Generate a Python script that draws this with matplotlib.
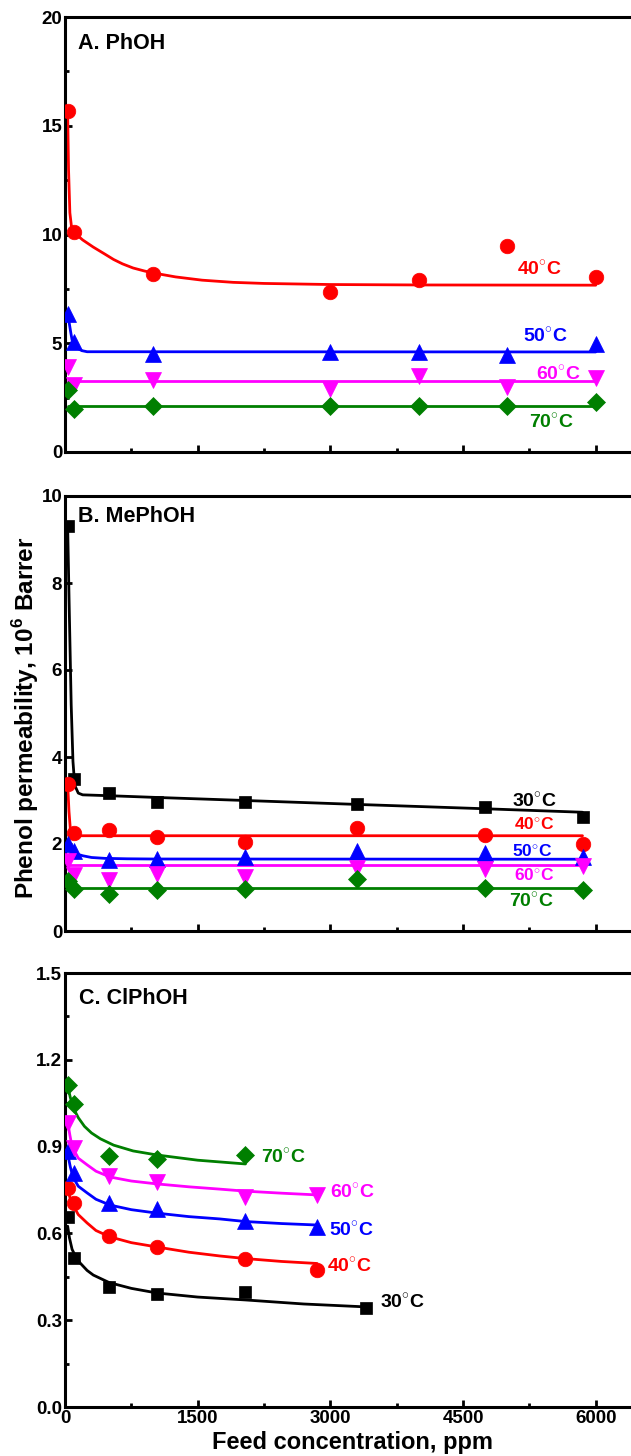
import matplotlib
matplotlib.use("Agg")
import matplotlib.pyplot as plt
from matplotlib.ticker import MultipleLocator, FormatStrFormatter

plt.rcParams['font.family'] = ['Liberation Sans', 'DejaVu Sans']
plt.rcParams['font.weight'] = 'bold'
plt.rcParams['mathtext.fontset'] = 'custom'
plt.rcParams['mathtext.rm'] = 'Liberation Sans:bold'
plt.rcParams['mathtext.bf'] = 'Liberation Sans:bold'

# colours / markers per temperature
temps = ['30°C', '40°C', '50°C', '60°C', '70°C']
colors = {'30°C': 'black', '40°C': '#ff0000', '50°C': '#0000ff',
          '60°C': '#ff00ff', '70°C': '#007f00'}
markers = {'30°C': 's', '40°C': 'o', '50°C': '^', '60°C': 'v', '70°C': 'D'}
msizes = {'30°C': 9, '40°C': 10.5, '50°C': 11, '60°C': 11, '70°C': 9}

# ---- A. PhOH ----
conc_A = [30, 100, 1000, 3000, 4000, 5000, 6000]
A_40 = [15.7, 10.1, 8.2, 7.35, 7.9, 9.45, 8.05]
A_50 = [6.35, 5.05, 4.5, 4.6, 4.6, 4.45, 4.95]
A_60 = [3.9, 3.1, 3.3, 2.9, 3.5, 3.0, 3.4]
A_70 = [2.85, 2.0, 2.1, 2.1, 2.1, 2.1, 2.3]

fitA40_x = [30, 40, 55, 75, 100, 200, 320, 450, 550, 650, 770, 900, 1000, 1250, 1550, 1900, 2250, 2700, 3000, 4000, 6000]
fitA40_y = [15.6, 13.0, 11.0, 10.3, 10.1, 9.75, 9.42, 9.1, 8.85, 8.65, 8.46, 8.32, 8.23, 8.05, 7.9, 7.8, 7.75, 7.72, 7.7, 7.68, 7.67]
fitA50_x = [30, 45, 65, 80, 110, 140, 190, 250, 6000]
fitA50_y = [6.35, 6.0, 5.5, 5.15, 4.9, 4.77, 4.66, 4.61, 4.6]
fitA60_x = [30, 6000]
fitA60_y = [3.25, 3.25]
fitA70_x = [30, 6000]
fitA70_y = [2.12, 2.12]

# ---- B. MePhOH ----
conc_B = [30, 100, 500, 1040, 2040, 3300, 4750, 5850]
B_30 = [9.3, 3.5, 3.17, 2.96, 2.97, 2.92, 2.84, 2.62]
B_40 = [3.39, 2.25, 2.33, 2.17, 2.05, 2.37, 2.2, 1.99]
B_50 = [2.0, 1.85, 1.64, 1.66, 1.7, 1.84, 1.79, 1.7]
B_60 = [1.62, 1.28, 1.18, 1.32, 1.25, 1.45, 1.42, 1.5]
B_70 = [1.16, 0.97, 0.86, 0.95, 0.97, 1.2, 0.99, 0.95]

fitB30_x = [30, 50, 70, 90, 110, 150, 200, 500, 1040, 2040, 3300, 4750, 5850]
fitB30_y = [9.3, 7.2, 5.2, 3.9, 3.35, 3.17, 3.13, 3.11, 3.07, 3.0, 2.91, 2.81, 2.73]
fitB40_x = [30, 45, 60, 80, 100, 5850]
fitB40_y = [3.38, 2.75, 2.35, 2.21, 2.19, 2.19]
fitB50_x = [20, 50, 100, 150, 200, 300, 450, 700, 1000, 5850]
fitB50_y = [2.1, 1.96, 1.82, 1.76, 1.73, 1.69, 1.67, 1.66, 1.655, 1.65]
fitB60_x = [30, 5850]
fitB60_y = [1.52, 1.52]
fitB70_x = [30, 5850]
fitB70_y = [1.0, 1.0]

# ---- C. ClPhOH ----
conc_C30 = [30, 100, 500, 1040, 2040, 3400]
C_30 = [0.657, 0.515, 0.415, 0.392, 0.398, 0.342]
conc_C = [30, 100, 500, 1040, 2040, 2850]
C_40 = [0.757, 0.705, 0.59, 0.553, 0.512, 0.475]
C_50 = [0.885, 0.809, 0.705, 0.686, 0.642, 0.623]
C_60 = [0.98, 0.895, 0.797, 0.777, 0.727, 0.733]
conc_C70 = [30, 100, 500, 1040, 2040]
C_70 = [1.113, 1.046, 0.868, 0.858, 0.872]

fitC30_x = [30, 50, 80, 120, 170, 250, 320, 500, 750, 1040, 1500, 2040, 2700, 3400]
fitC30_y = [0.625, 0.585, 0.545, 0.52, 0.498, 0.472, 0.456, 0.43, 0.41, 0.394, 0.38, 0.37, 0.356, 0.346]
fitC40_x = [30, 60, 90, 150, 250, 350, 508, 750, 1040, 1400, 1750, 2040, 2450, 2850]
fitC40_y = [0.75, 0.72, 0.698, 0.665, 0.636, 0.61, 0.588, 0.568, 0.553, 0.535, 0.522, 0.513, 0.503, 0.496]
fitC50_x = [30, 60, 90, 150, 250, 350, 508, 750, 1040, 1400, 1750, 2040, 2450, 2850]
fitC50_y = [0.875, 0.83, 0.795, 0.763, 0.74, 0.718, 0.698, 0.682, 0.67, 0.658, 0.65, 0.641, 0.634, 0.629]
fitC60_x = [30, 55, 80, 150, 250, 350, 508, 750, 1040, 1400, 1750, 2040, 2450, 2850]
fitC60_y = [0.985, 0.94, 0.9, 0.86, 0.837, 0.815, 0.795, 0.781, 0.771, 0.761, 0.753, 0.746, 0.739, 0.733]
fitC70_x = [30, 60, 100, 150, 220, 300, 400, 550, 770, 1040, 1500, 2040]
fitC70_y = [1.11, 1.07, 1.03, 1.0, 0.97, 0.947, 0.927, 0.905, 0.885, 0.871, 0.853, 0.84]

panels = [
    {'title': 'A. PhOH', 'ylim': 20, 'major': 5, 'minor': 2.5, 'fmt': '%d', 'title_pos': (150, 18.8),
     'series': [('40°C', conc_A, A_40, fitA40_x, fitA40_y),
                ('50°C', conc_A, A_50, fitA50_x, fitA50_y),
                ('60°C', conc_A, A_60, fitA60_x, fitA60_y),
                ('70°C', conc_A, A_70, fitA70_x, fitA70_y)],
     'labels': [('40°C', 5360, 8.43, 14), ('50°C', 5426, 5.34, 14),
                ('60°C', 5580, 3.6, 14), ('70°C', 5503, 1.38, 14)]},
    {'title': 'B. MePhOH', 'ylim': 10, 'major': 2, 'minor': None, 'fmt': '%d', 'title_pos': (150, 9.52),
     'series': [('30°C', conc_B, B_30, fitB30_x, fitB30_y),
                ('40°C', conc_B, B_40, fitB40_x, fitB40_y),
                ('50°C', conc_B, B_50, fitB50_x, fitB50_y),
                ('60°C', conc_B, B_60, fitB60_x, fitB60_y),
                ('70°C', conc_B, B_70, fitB70_x, fitB70_y)],
     'labels': [('30°C', 5303, 2.99, 14), ('40°C', 5298, 2.44, 12.5), ('50°C', 5275, 1.83, 12.5),
                ('60°C', 5303, 1.26, 12.5), ('70°C', 5271, 0.69, 14)]},
    {'title': 'C. ClPhOH', 'ylim': 1.5, 'major': 0.3, 'minor': 0.15, 'fmt': '%.1f', 'title_pos': (160, 1.413),
     'series': [('30°C', conc_C30, C_30, fitC30_x, fitC30_y),
                ('40°C', conc_C, C_40, fitC40_x, fitC40_y),
                ('50°C', conc_C, C_50, fitC50_x, fitC50_y),
                ('60°C', conc_C, C_60, fitC60_x, fitC60_y),
                ('70°C', conc_C70, C_70, fitC70_x, fitC70_y)],
     'labels': [('30°C', 3819, 0.362, 14), ('40°C', 3214, 0.488, 14), ('50°C', 3236, 0.613, 14),
                ('60°C', 3245, 0.742, 14), ('70°C', 2467, 0.865, 14)]},
]

W, H = 631, 1456
fig = plt.figure(figsize=(W / 100, H / 100), dpi=100)

# axes boxes in pixels: (top, bottom)
boxes = [(17, 452), (496, 931), (973, 1407)]
left_px, right_px = 65, 640

for i, (p, (top, bot)) in enumerate(zip(panels, boxes)):
    ax = fig.add_axes([left_px / W, (H - bot) / H, (right_px - left_px) / W, (bot - top) / H])
    for name, cx, cy, fx, fy in p['series']:
        ax.plot(fx, fy, color=colors[name], lw=2.0, solid_capstyle='round', zorder=2)
        ax.plot(cx, cy, linestyle='none', marker=markers[name], ms=msizes[name],
                color=colors[name], mec=colors[name], mew=0.5, zorder=3)
    for name, lx, ly, fs in p['labels']:
        txt = name.replace('°', r'$^{\circ}$')
        ax.text(lx, ly, txt, color=colors[name], fontsize=fs, fontweight='bold',
                ha='center', va='center')
    ax.text(p['title_pos'][0], p['title_pos'][1], p['title'], fontsize=15.5, fontweight='bold',
            ha='left', va='center')
    ax.set_xlim(0, 6500)
    ax.set_ylim(0, p['ylim'])
    ax.set_xticks([0, 1500, 3000, 4500, 6000])
    ax.xaxis.set_minor_locator(MultipleLocator(750))
    ax.yaxis.set_major_locator(MultipleLocator(p['major']))
    if p['minor']:
        ax.yaxis.set_minor_locator(MultipleLocator(p['minor']))
    ax.yaxis.set_major_formatter(FormatStrFormatter(p['fmt']))
    ax.tick_params(which='both', direction='in', top=False, right=False, width=2)
    ax.tick_params(which='major', length=5, labelsize=13.5, pad=2)
    ax.tick_params(which='minor', length=3)
    for sp in ax.spines.values():
        sp.set_linewidth(2.2)
    if i < 2:
        ax.tick_params(labelbottom=False)

fig.text((left_px + right_px) / 2 / W, 1 - 1443 / H, 'Feed concentration, ppm',
         fontsize=17, fontweight='bold', ha='center', va='center')
fig.text(26 / W, 1 - 718 / H, r'Phenol permeability, 10$^{6}$ Barrer', rotation=90,
         fontsize=17.5, fontweight='bold', ha='center', va='center')

fig.savefig('out.png', dpi=100)
